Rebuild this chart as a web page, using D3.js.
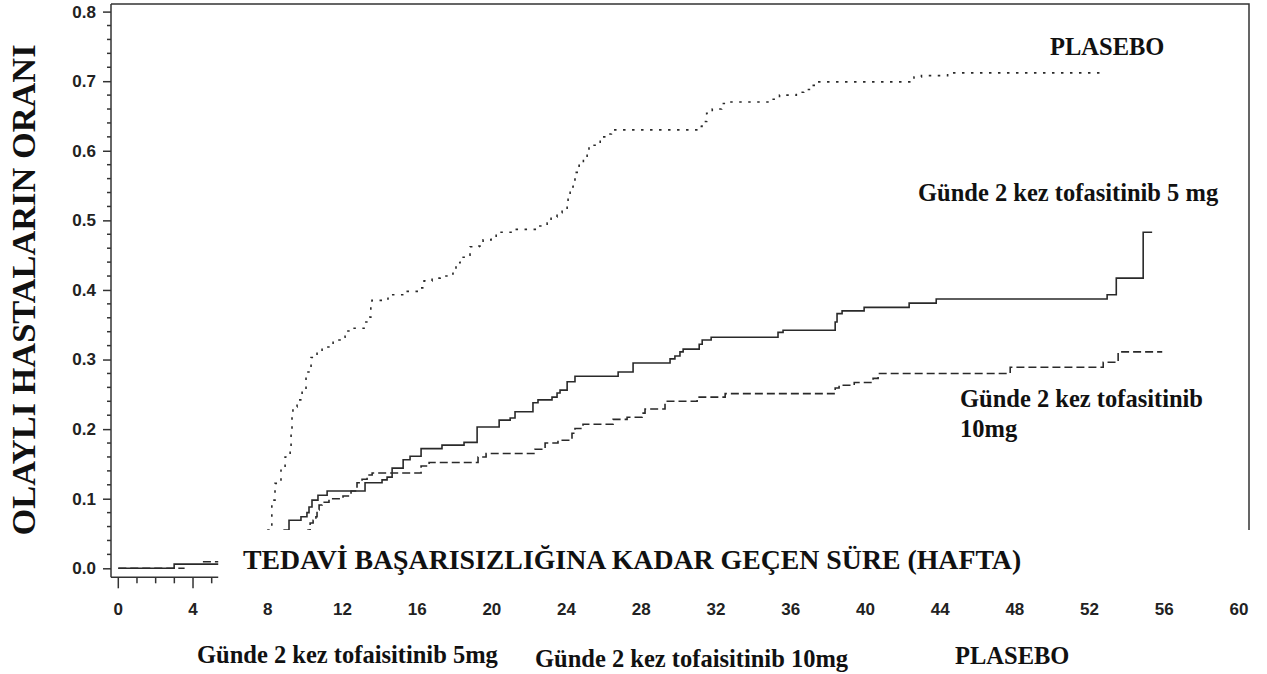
<!DOCTYPE html>
<html>
<head>
<meta charset="utf-8">
<script src="https://cdn.jsdelivr.net/npm/d3@7"></script>
<style>
  html, body { margin: 0; padding: 0; background: #fff; }
  svg { display: block; }
</style>
</head>
<body>
<svg id="chart" width="1267" height="674"></svg>
<script>
// ---------------- DATA ----------------
const xTickValues = [0, 4, 8, 12, 16, 20, 24, 28, 32, 36, 40, 44, 48, 52, 56, 60];
const yTickValues = [0.0, 0.1, 0.2, 0.3, 0.4, 0.5, 0.6, 0.7, 0.8];
const xMinorTicks = [0, 1, 2, 3, 4, 5];

const yTitle = "OLAYLI HASTALARIN ORANI";
const xTitle = "TEDAVİ BAŞARISIZLIĞINA KADAR GEÇEN SÜRE (HAFTA)";
const legendLabels = ["Günde 2 kez tofaisitinib 5mg", "Günde 2 kez tofaisitinib 10mg", "PLASEBO"];
const seriesNames = ["PLASEBO", "Günde 2 kez tofasitinib 5 mg", "Günde 2 kez tofasitinib", "10mg"];

// Kaplan–Meier step points: [week, cumulative proportion]
const tofa5 = [[0,0],[2.99,0.006],[8.88,0.055],[9.14,0.069],[9.78,0.074],[10.1,0.08],[10.21,0.088],[10.37,0.098],
  [10.69,0.105],[11.18,0.111],[13.21,0.123],[14.12,0.127],[14.39,0.131],[14.66,0.144],[15.25,0.156],[15.62,0.161],
  [16.21,0.172],[17.33,0.177],[18.51,0.181],[19.21,0.203],[20.39,0.213],[20.98,0.216],[21.24,0.225],[22.2,0.238],
  [22.47,0.242],[23.22,0.246],[23.49,0.252],[23.65,0.256],[24.03,0.268],[24.45,0.276],[26.76,0.282],[27.56,0.295],
  [29.54,0.301],[29.8,0.305],[30.07,0.311],[30.24,0.315],[31.1,0.322],[31.26,0.328],[31.74,0.332],[35.32,0.339],
  [35.59,0.342],[38.38,0.354],[38.48,0.366],[38.75,0.37],[39.93,0.375],[42.34,0.381],[43.79,0.387],[52.94,0.393],
  [53.43,0.417],[54.87,0.483],[55.35,0.483]];

const tofa10 = [[0,0],[3.55,0],[3.55,null],[4.53,0.0095],[10.16,0.055],[10.27,0.065],[10.43,0.069],[10.58,0.074],
  [10.64,0.084],[10.75,0.091],[10.91,0.095],[11.28,0.1],[12.03,0.104],[12.46,0.111],[12.78,0.123],[13.05,0.128],
  [13.32,0.134],[13.59,0.137],[16.21,0.147],[16.64,0.152],[19.26,0.16],[19.69,0.165],[22.31,0.171],[22.85,0.18],
  [23.54,0.184],[24.29,0.194],[24.45,0.201],[24.88,0.207],[26.49,0.214],[27.24,0.217],[28.04,0.223],[28.2,0.229],
  [29.27,0.24],[30.99,0.246],[32.49,0.251],[38.38,0.259],[38.59,0.263],[39.4,0.267],[40.41,0.273],[40.68,0.28],
  [47.75,0.289],[52.73,0.296],[53.53,0.311],[55.89,0.311]];

const placebo = [[7.97,0.055],[8.22,0.098],[8.39,0.122],[8.71,0.141],[8.93,0.16],[9.2,0.174],[9.25,0.199],[9.3,0.223],
  [9.35,0.232],[9.57,0.242],[9.84,0.256],[10.05,0.282],[10.27,0.289],[10.32,0.303],[10.64,0.311],[10.91,0.318],
  [11.33,0.321],[11.5,0.328],[11.87,0.332],[12.14,0.341],[12.51,0.345],[13.21,0.354],[13.47,0.361],[13.52,0.376],
  [13.58,0.385],[14.12,0.387],[14.44,0.393],[15.35,0.398],[16.15,0.403],[16.37,0.413],[16.8,0.417],[17.23,0.42],
  [17.65,0.423],[17.92,0.427],[18.08,0.439],[18.3,0.447],[18.67,0.45],[18.83,0.462],[19.31,0.463],[19.53,0.472],
  [19.96,0.476],[20.23,0.483],[21.08,0.487],[22.47,0.492],[22.96,0.496],[23.17,0.505],[23.49,0.511],[23.76,0.516],
  [24.03,0.523],[24.08,0.535],[24.19,0.548],[24.35,0.558],[24.45,0.569],[24.67,0.579],[24.9,0.589],[25.1,0.601],
  [25.2,0.608],[25.7,0.611],[25.8,0.62],[26.17,0.624],[26.4,0.63],[31.03,0.635],[31.25,0.642],[31.5,0.654],
  [31.8,0.66],[32.3,0.668],[32.5,0.67],[35.0,0.674],[35.4,0.68],[36.3,0.684],[36.7,0.688],[37.1,0.694],
  [37.3,0.699],[42.6,0.706],[43.0,0.708],[44.4,0.712],[52.7,0.712]];

// ---------------- LAYOUT ----------------
const svg = d3.select("#chart");
const serif = "'Liberation Serif', 'Times New Roman', serif";
const sans = "'Liberation Sans', Arial, sans-serif";
const ink = "#111";
const lineInk = "#2a2a2a";

const x = d3.scaleLinear().domain([0, 60]).range([118.3, 1239]);
const y = d3.scaleLinear().domain([0, 0.8]).range([568.3, 11.6]);

const frameLeft = 111, frameTop = 4, frameRight = 1249, axisY = 577.3;
const cutWeek = 5.35, cutValue = 0.055;

// Clip: the lower band of the plot (right of the visible axis stub) is blanked in the original
const defs = svg.append("defs");
defs.append("clipPath").attr("id", "plotClip")
  .append("path")
  .attr("d", `M0,0H1267V${y(cutValue)}H${x(cutWeek)}V674H0Z`);

// Curves
const line = d3.line()
  .defined(d => d[1] !== null)
  .x(d => x(d[0]))
  .y(d => y(d[1]))
  .curve(d3.curveStepAfter);

const curves = svg.append("g").attr("clip-path", "url(#plotClip)");
curves.append("path").datum(tofa5).attr("d", line)
  .attr("fill", "none").attr("stroke", lineInk).attr("stroke-width", 1.6);
curves.append("path").datum(tofa10).attr("d", line)
  .attr("fill", "none").attr("stroke", lineInk).attr("stroke-width", 1.6)
  .attr("stroke-dasharray", "8,4");
curves.append("path").datum(placebo).attr("d", line)
  .attr("fill", "none").attr("stroke", lineInk).attr("stroke-width", 1.6)
  .attr("stroke-dasharray", "2.5,6.5");

// Frame (top and right)
svg.append("path")
  .attr("d", `M${frameLeft},${frameTop}H${frameRight}V${y(cutValue)}`)
  .attr("fill", "none").attr("stroke", "#333").attr("stroke-width", 1.5);

// Bottom axis line and ticks
const xAxisG = svg.append("g").attr("transform", `translate(0,${axisY})`);
xAxisG.append("line").attr("x1", frameLeft).attr("x2", x(cutWeek)).attr("y1", 0).attr("y2", 0)
  .attr("stroke", "#333").attr("stroke-width", 1.5);
xAxisG.selectAll("line.tk").data(xMinorTicks).join("line").attr("class", "tk")
  .attr("x1", d => x(d)).attr("x2", d => x(d))
  .attr("y1", 0).attr("y2", d => d % 4 === 0 ? 11 : 6)
  .attr("stroke", "#333").attr("stroke-width", 1.5);
xAxisG.selectAll("text").data(xTickValues).join("text")
  .attr("x", d => x(d)).attr("y", 38)
  .attr("text-anchor", "middle")
  .attr("font-family", sans).attr("font-weight", "bold").attr("font-size", 17)
  .attr("fill", "#222")
  .text(d => d);

// Left axis
const yAxis = d3.axisLeft(y).tickValues(yTickValues).tickSize(8).tickPadding(7)
  .tickFormat(d3.format(".1f"));
const yAxisG = svg.append("g").attr("transform", `translate(${frameLeft},0)`).call(yAxis);
yAxisG.select(".domain").remove();
yAxisG.selectAll(".tick line").attr("stroke", "#333").attr("stroke-width", 1.5);
yAxisG.selectAll(".tick text").attr("font-family", sans).attr("font-weight", "bold")
  .attr("font-size", 17).attr("fill", "#222");
const yMinor = d3.range(0, 81, 2).filter(v => v % 10 !== 0).map(v => v / 100);
yAxisG.selectAll("line.minor").data(yMinor).join("line").attr("class", "minor")
  .attr("x1", -4).attr("x2", 0).attr("y1", d => y(d)).attr("y2", d => y(d))
  .attr("stroke", "#333").attr("stroke-width", 1.5);
svg.append("line").attr("x1", frameLeft).attr("x2", frameLeft)
  .attr("y1", frameTop).attr("y2", axisY)
  .attr("stroke", "#333").attr("stroke-width", 1.5);

// Axis titles
svg.append("text")
  .attr("transform", `translate(35,290) rotate(-90)`)
  .attr("text-anchor", "middle")
  .attr("font-family", serif).attr("font-weight", "bold").attr("font-size", 34.4)
  .attr("fill", ink).text(yTitle);

svg.append("text")
  .attr("x", 243).attr("y", 569)
  .attr("font-family", serif).attr("font-weight", "bold").attr("font-size", 27.8)
  .attr("fill", ink).text(xTitle);

// In-plot series labels
const labelStyle = sel => sel.attr("font-family", serif).attr("font-weight", "bold")
  .attr("font-size", 24.5).attr("fill", ink);
svg.append("text").attr("x", 1050).attr("y", 55).call(labelStyle).text(seriesNames[0]);
svg.append("text").attr("x", 918).attr("y", 201).call(labelStyle).text(seriesNames[1]);
svg.append("text").attr("x", 960).attr("y", 407).call(labelStyle).text(seriesNames[2]);
svg.append("text").attr("x", 960).attr("y", 437).call(labelStyle).text(seriesNames[3]);

// Bottom labels
const bottomPos = [[197, 663], [535, 667], [955, 664]];
legendLabels.forEach((t, i) => {
  svg.append("text").attr("x", bottomPos[i][0]).attr("y", bottomPos[i][1])
    .call(labelStyle).attr("font-size", 24.5).text(t);
});
</script>
</body>
</html>
